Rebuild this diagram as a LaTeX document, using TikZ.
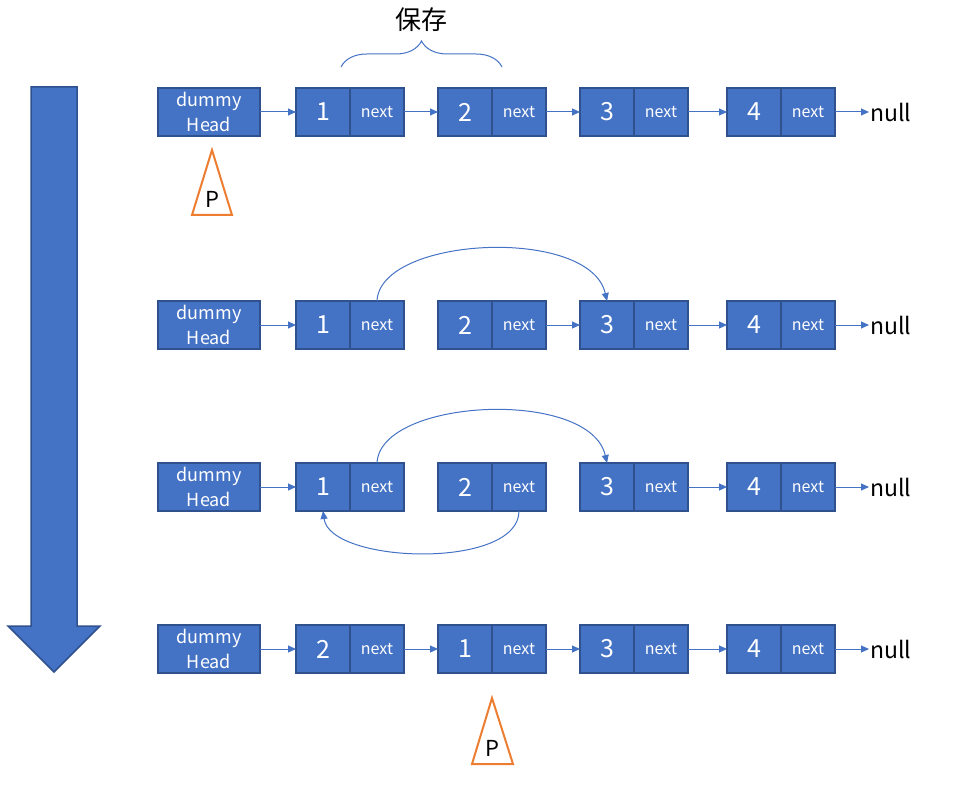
\documentclass[tikz,border=0pt]{standalone}
\usepackage{fontspec}
\setmainfont{Noto Sans CJK SC}
\usetikzlibrary{positioning,arrows.meta,decorations.pathreplacing}
\definecolor{lnblue}{HTML}{4472C4}
\definecolor{lnedge}{HTML}{2F528F}
\definecolor{ptrorange}{HTML}{ED7D31}
\begin{document}
\begin{tikzpicture}[x=1pt,y=-1pt,>={Triangle[width=7pt,length=8pt]},
 cell/.style={draw=lnedge,fill=lnblue,line width=1.5pt,minimum height=48pt,minimum width=54pt,inner sep=0pt,outer sep=0pt,text=white},
 val/.style={cell,font=\fontsize{25}{25}\selectfont},
 nxt/.style={cell,font=\fontsize{16}{16}\selectfont},
 head/.style={cell,minimum width=102pt,align=center,font=\fontsize{18}{25}\selectfont},
 link/.style={->,draw=lnblue,line width=1pt},
 ptr/.style={draw=ptrorange,line width=2pt,line join=miter}]
\useasboundingbox (0,0) rectangle (976,786);
% big down arrow
\draw[fill=lnblue,draw=lnedge,line width=1.5pt] (31,87)--(77,87)--(77,626)--(100,626)--(54,672)--(8,626)--(31,626)--cycle;
% the four lists
\foreach \r/\y/\a/\b in {1/112/1/2,2/325/1/2,3/487/1/2,4/649/2/1}{
\node[head] (h\r) at (209,\y) {dummy\\Head};
\node[val] (v\r1) at (323,\y) {\a};
\node[nxt,right=0pt of v\r1] (n\r1) {next};
\node[val] (v\r2) at (465,\y) {\b};
\node[nxt,right=0pt of v\r2] (n\r2) {next};
\node[val] (v\r3) at (607,\y) {3};
\node[nxt,right=0pt of v\r3] (n\r3) {next};
\node[val] (v\r4) at (754,\y) {4};
\node[nxt,right=0pt of v\r4] (n\r4) {next};
\node[font=\fontsize{23}{23}\selectfont,anchor=west,inner sep=1pt] (z\r) at (869,\y) {null};
\draw[link] (h\r)--(v\r1);
\draw[link] (n\r3)--(v\r4);
\draw[link] (n\r4)--(z\r);
}
\foreach \r in {1,4} \draw[link] (n\r1)--(v\r2);
\foreach \r in {1,2,4} \draw[link] (n\r2)--(v\r3);
% re-linking
\foreach \r in {2,3} \draw[link] (n\r1.north) .. controls +(3,-65) and +(-17,-75) .. (v\r3.north);
\draw[link] (n32.south) .. controls +(0,59) and +(7,53) .. (v31.south);
% saved pair
\draw[lnblue,line width=1pt,decorate,decoration={brace,amplitude=26pt}] (341,67)--(502,67);
\node[font=\fontsize{26}{26}\selectfont] (save) at (421,20) {保存};
% pointer p
\draw[ptr] (212,150)--(232,215)--(192,215)--cycle;
\node[font=\fontsize{22}{22}\selectfont] (p1) at (212,199) {P};
\draw[ptr] (492,698)--(513,764)--(472,764)--cycle;
\node[font=\fontsize{22}{22}\selectfont] (p4) at (492,748) {P};
\end{tikzpicture}
\end{document}
